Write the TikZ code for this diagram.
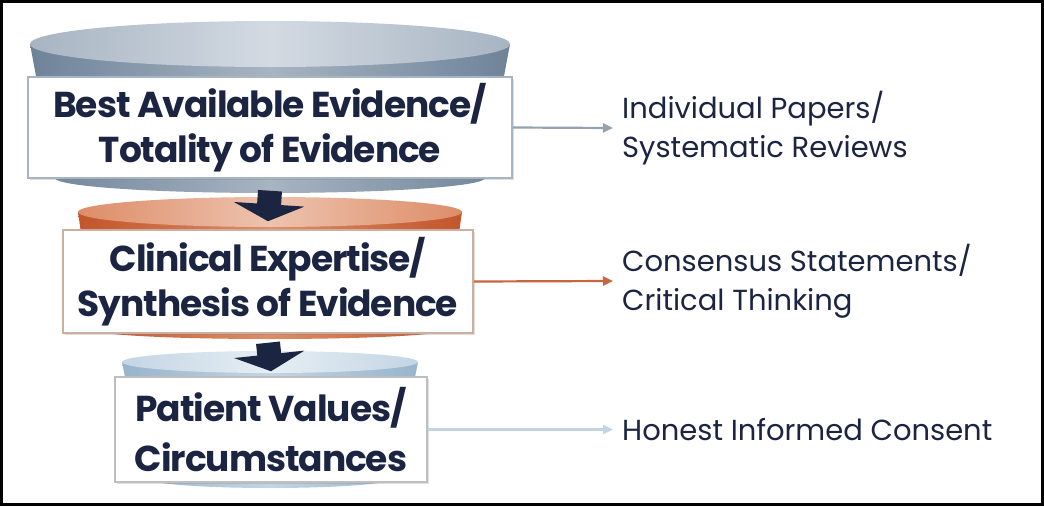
\documentclass[tikz,border=0pt]{standalone}
\usepackage{fontspec}
\setmainfont{Poppins}
\usetikzlibrary{arrows.meta, positioning, shadows}
\definecolor{navy}{HTML}{1B2541}
\definecolor{slateD}{HTML}{6F8398}
\definecolor{slateM}{HTML}{A7B4C2}
\definecolor{slateL}{HTML}{D3DAE2}
\definecolor{rustD}{HTML}{C2552B}
\definecolor{rustM}{HTML}{DD8D68}
\definecolor{rustL}{HTML}{EDC3AE}
\definecolor{skyD}{HTML}{98B4CB}
\definecolor{skyM}{HTML}{C3D5E3}
\definecolor{skyL}{HTML}{E6EEF4}
\tikzset{
  level/.style={draw=#1, line width=1.5pt, fill=white, align=center, text=navy,
    font=\bfseries\fontsize{36}{45}\selectfont\addfontfeatures{LetterSpace=-3}, inner sep=0pt,
    drop shadow={shadow xshift=1.5pt, shadow yshift=-1.5pt, opacity=0.25}},
  source/.style={anchor=west, align=left, text=navy, inner xsep=9pt, inner ysep=0pt,
    font=\fontsize{29}{39}\selectfont},
  downarr/.style={navy, line width=24pt, -{Triangle[length=17pt, width=70pt]}},
  sidearr/.style={draw=#1, line width=2.2pt, -{Triangle[length=10pt, width=9pt]}},
}

\begin{document}
\begin{tikzpicture}[x=1pt, y=-1pt]
  \useasboundingbox (0,0) rectangle (1044,506);
  \fill[white] (0,0) rectangle (1044,506);

  % funnels
  \shade[left color=slateD, right color=slateD, middle color=slateM]
    (30,44) -- (55,178) arc[start angle=180, end angle=0, x radius=215, y radius=15] -- (510,44) -- cycle;
  \shade[left color=slateM, right color=slateM, middle color=slateL]
    (270,44) ellipse[x radius=240, y radius=23];
  \shade[left color=rustD, right color=rustD, middle color=rustM]
    (78,212) -- (95,330) arc[start angle=180, end angle=0, x radius=175, y radius=9] -- (462,212) -- cycle;
  \shade[left color=rustM, right color=rustM, middle color=rustL]
    (270,212) ellipse[x radius=192, y radius=15];
  \shade[left color=skyD, right color=skyD, middle color=skyM]
    (122,362) -- (145,478) arc[start angle=180, end angle=0, x radius=125, y radius=10] -- (418,362) -- cycle;
  \shade[left color=skyM, right color=skyM, middle color=skyL]
    (270,362) ellipse[x radius=148, y radius=11];

  % levels
  \node[level=slateM, minimum width=484pt, minimum height=101pt] (evid) at (270,127.5)
    {Best Available Evidence/\\Totality of Evidence};
  \node[level={rustL!70!gray}, minimum width=410pt, minimum height=103pt] (expert) at (268,281.5)
    {Clinical Expertise/\\Synthesis of Evidence};
  \node[level={gray!50}, minimum width=312pt, minimum height=105pt,
    font=\bfseries\fontsize{36}{50}\selectfont\addfontfeatures{LetterSpace=-3}] (patient) at (271,429.5)
    {Patient Values/\\Circumstances};

  % sources
  \node[source] (papers) at (613,128) {Individual Papers/\\Systematic Reviews};
  \node[source] (consensus) at (613,281) {Consensus Statements/\\Critical Thinking};
  \node[source] (consent) at (613,429.5) {Honest Informed Consent};

  \draw[downarr] ([yshift=-12pt]evid.south) -- ([yshift=8pt]expert.north);
  \draw[downarr] ([yshift=-9pt]expert.south) -- ([yshift=5pt]patient.north);

  \draw[sidearr=slateM!90!black] (evid.east) -- (papers.west);
  \draw[sidearr=rustD!90] (expert.east) -- (consensus.west);
  \draw[sidearr=skyM] (patient.east) -- (consent.west);

  \draw[line width=3pt] (1.5,1.5) rectangle (1042.5,504.5);
\end{tikzpicture}
\end{document}
